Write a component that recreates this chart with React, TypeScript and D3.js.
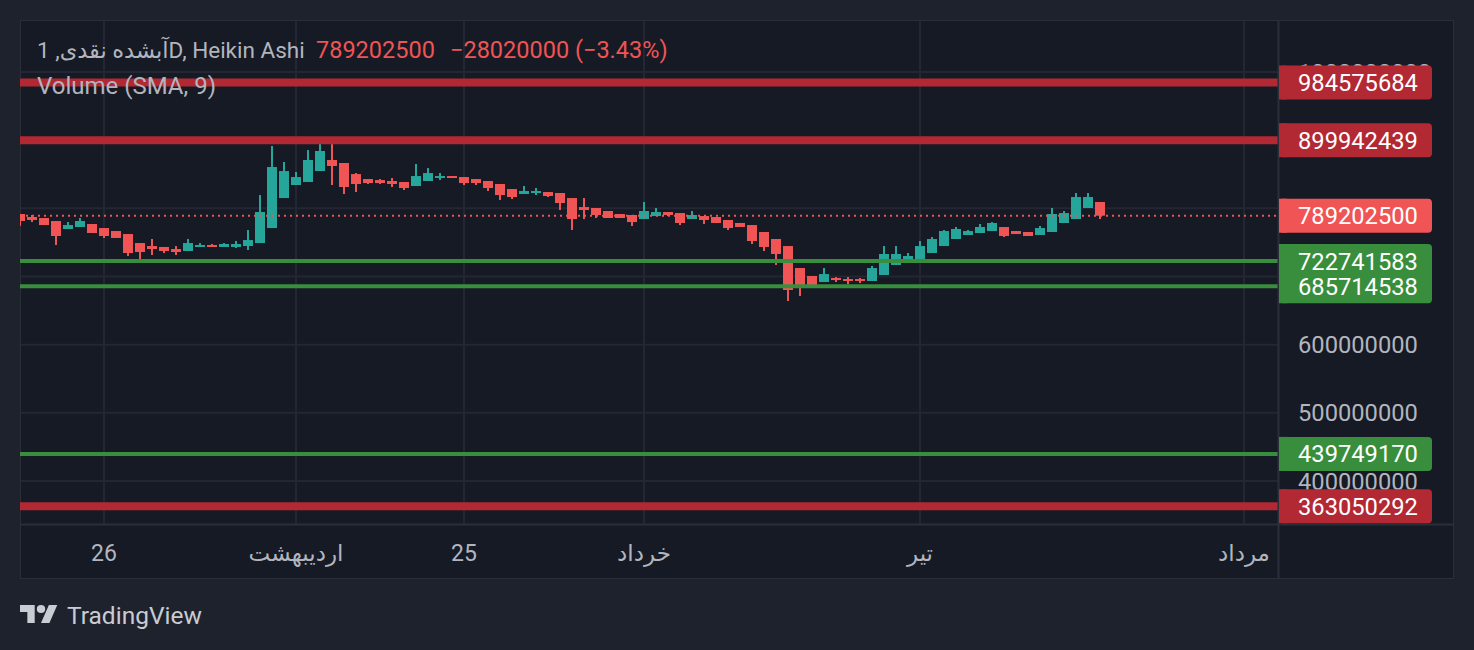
import React from "react";
import * as d3 from "d3";

// Heikin Ashi candles, values in millions
const opens = [
    791.7, 787.3, 785.8, 781.4, 769.7, 772.6, 777.0, 771.1, 766.7, 762.3,
    749.1, 744.7, 743.3, 740.3, 737.4, 743.3, 746.2, 743.3, 743.3, 744.7,
    749.1, 771.1, 815.1, 834.2, 838.6, 854.7, 870.9, 866.5, 850.3, 843.0,
    841.5, 840.1, 838.6, 832.7, 840.1, 844.5, 847.4, 845.9, 843.0, 840.1,
    835.7, 828.3, 821.0, 822.5, 823.9, 822.5, 815.1, 801.9, 800.5, 796.1,
    791.7, 790.2, 784.3, 788.7, 794.6, 793.1, 784.3, 788.7, 787.3, 782.9,
    778.5, 775.5, 765.3, 755.0, 744.7, 712.4, 700.7, 691.9, 697.8, 696.3,
    696.3, 693.4, 702.2, 716.9, 724.2, 725.7, 734.5, 744.7, 755.0, 760.9,
    763.8, 766.7, 772.6, 766.7, 765.3, 760.9, 765.3, 778.5, 784.3, 800.5,
    809.3,
];
const highs = [
    791.7, 790.2, 785.8, 781.4, 779.9, 785.8, 777.0, 771.1, 766.7, 762.3,
    749.1, 755.0, 743.3, 744.7, 755.0, 749.1, 747.7, 749.1, 752.1, 768.2,
    819.5, 891.4, 868.0, 853.3, 885.5, 894.3, 894.3, 866.5, 851.8, 843.0,
    843.0, 844.5, 838.6, 865.1, 859.1, 851.8, 847.4, 845.9, 843.0, 840.1,
    835.7, 828.3, 832.7, 829.8, 823.9, 822.5, 815.1, 815.1, 800.5, 796.1,
    791.7, 790.2, 809.3, 800.5, 794.6, 793.1, 796.1, 788.7, 787.3, 782.9,
    778.5, 775.5, 765.3, 755.0, 744.7, 712.4, 700.7, 712.4, 699.2, 699.2,
    697.8, 715.4, 744.7, 744.7, 734.5, 752.1, 757.9, 768.2, 772.6, 768.2,
    777.0, 779.9, 772.6, 766.7, 765.3, 774.1, 800.5, 796.1, 822.5, 822.5,
    809.3,
];
const lows = [
    774.1, 779.9, 775.5, 746.2, 769.7, 772.6, 763.8, 756.5, 756.5, 730.1,
    724.2, 731.5, 734.5, 731.5, 737.4, 743.3, 743.3, 743.3, 741.8, 738.9,
    749.1, 771.1, 815.1, 834.2, 838.6, 854.7, 834.2, 821.0, 823.9, 835.7,
    835.7, 831.3, 826.9, 832.7, 840.1, 841.5, 844.5, 834.2, 834.2, 825.4,
    812.2, 813.7, 821.0, 819.5, 816.6, 797.5, 768.2, 784.3, 785.8, 785.8,
    785.8, 774.1, 784.3, 788.7, 788.7, 775.5, 784.3, 777.0, 778.5, 768.2,
    772.6, 747.7, 737.4, 716.9, 664.0, 671.4, 684.6, 691.9, 691.9, 689.0,
    690.4, 693.4, 702.2, 716.9, 724.2, 725.7, 734.5, 744.7, 755.0, 760.9,
    763.8, 766.7, 757.9, 762.3, 759.4, 760.9, 765.3, 778.5, 784.3, 800.5,
    784.3,
];
const closes = [
    781.4, 782.9, 775.5, 759.4, 775.5, 781.4, 763.8, 759.4, 756.5, 734.5,
    735.9, 740.3, 737.4, 735.9, 749.1, 746.2, 743.3, 747.7, 747.7, 753.5,
    794.6, 860.6, 854.7, 845.9, 870.9, 884.1, 862.1, 831.3, 835.7, 837.1,
    837.1, 835.7, 829.8, 847.4, 851.8, 847.4, 844.5, 837.1, 837.1, 829.8,
    819.5, 816.6, 825.4, 825.4, 818.1, 807.8, 784.3, 797.5, 790.2, 785.8,
    785.8, 779.9, 796.1, 794.6, 790.2, 778.5, 790.2, 782.9, 778.5, 771.1,
    772.6, 752.1, 743.3, 733.0, 680.2, 686.0, 684.6, 703.6, 694.8, 693.4,
    693.4, 712.4, 733.0, 733.0, 730.1, 744.7, 755.0, 766.7, 769.7, 766.7,
    772.6, 778.5, 759.4, 762.3, 759.4, 771.1, 791.7, 793.1, 816.6, 816.6,
    789.2025,
];

const priceTicks = [400, 500, 600, 700, 800, 900, 1000];

const timeTicks = [
    { i: 7, label: "26" },
    { i: 23, label: "اردیبهشت" },
    { i: 37, label: "25" },
    { i: 52, label: "خرداد" },
    { i: 75, label: "تیر" },
    { i: 102, label: "مرداد" },
];

const redLevels = [984575684, 899942439, 363050292];
const greenLevels = [685714538, 722741583, 439749170];
const lastPrice = 789202500;

const UP = "#26a69a";
const DOWN = "#f05454";
const LEVEL_RED = "#b22833";
const LEVEL_GREEN = "#388e3c";
const TEXT = "#b2b5be";
const FONT = "Roboto, 'DejaVu Sans', sans-serif";

export default function App() {
    const width = 1474;
    const height = 650;
    const pane = { left: 20, top: 20, right: 1454, bottom: 579 };
    const plotRight = 1279;
    const plotBottom = 524;

    const x = d3.scaleLinear().domain([0, 105]).range([20, 20 + 105 * 12]);
    const y = d3.scaleLinear().domain([400, 1000]).range([481, 72]);

    const candles = d3.range(opens.length).map((i) => ({
        i,
        o: opens[i],
        h: highs[i],
        l: lows[i],
        c: closes[i],
    }));

    const priceBox = (value: number, color: string, key: string) => {
        const cy = y(value / 1e6);
        return (
            <g key={key}>
                <rect x={plotRight} y={cy - 17} width={153} height={34} rx={4} fill={color} />
                <rect x={plotRight} y={cy - 17} width={8} height={34} fill={color} />
                <text x={1298} y={cy} dy="0.36em" fill="#ffffff" fontSize={23.7}>
                    {value}
                </text>
            </g>
        );
    };

    return (
        <svg
            width={width}
            height={height}
            style={{ position: "absolute", left: 0, top: 0 }}
            fontFamily={FONT}
        >
            <defs>
                <clipPath id="plot">
                    <rect x={pane.left} y={pane.top} width={plotRight - pane.left} height={plotBottom - pane.top} />
                </clipPath>
            </defs>
            <rect width={width} height={height} fill="#1e222d" />
            <rect
                x={pane.left + 0.5}
                y={pane.top + 0.5}
                width={pane.right - pane.left - 1}
                height={pane.bottom - pane.top - 1}
                fill="#161a25"
                stroke="#2a2e39"
            />

            {/* grid */}
            <g stroke="#242733" strokeWidth={2}>
                {timeTicks.map((t) => (
                    <line key={t.label} x1={x(t.i)} x2={x(t.i)} y1={pane.top + 1} y2={plotBottom} />
                ))}
                {priceTicks.map((p) => (
                    <line key={p} x1={pane.left + 1} x2={plotRight} y1={y(p)} y2={y(p)} />
                ))}
            </g>

            {/* candles */}
            <g clipPath="url(#plot)">
                {candles.map((d) => {
                    const color = d.c >= d.o ? UP : DOWN;
                    const top = y(Math.max(d.o, d.c));
                    const bot = y(Math.min(d.o, d.c));
                    const cx = x(d.i);
                    return (
                        <g key={d.i} fill={color}>
                            <rect x={cx - 1} y={y(d.h)} width={2} height={y(d.l) - y(d.h)} />
                            <rect x={cx - 5} y={top} width={10} height={Math.max(2, bot - top)} />
                        </g>
                    );
                })}
            </g>

            {/* horizontal levels */}
            {redLevels.map((v) => (
                <line key={v} x1={pane.left} x2={plotRight} y1={y(v / 1e6)} y2={y(v / 1e6)} stroke={LEVEL_RED} strokeWidth={8} />
            ))}
            {greenLevels.map((v) => (
                <line key={v} x1={pane.left} x2={plotRight} y1={y(v / 1e6)} y2={y(v / 1e6)} stroke={LEVEL_GREEN} strokeWidth={4} />
            ))}
            <line
                x1={pane.left}
                x2={plotRight}
                y1={y(lastPrice / 1e6)}
                y2={y(lastPrice / 1e6)}
                stroke={DOWN}
                strokeWidth={2}
                strokeDasharray="2 4"
            />

            {/* axes borders */}
            <line x1={plotRight - 0.5} x2={plotRight - 0.5} y1={pane.top} y2={pane.bottom} stroke="#2a2e39" strokeWidth={2} />
            <line x1={pane.left} x2={pane.right} y1={plotBottom + 0.5} y2={plotBottom + 0.5} stroke="#2a2e39" strokeWidth={2} />

            {/* price axis */}
            <g fill={TEXT} fontSize={23.7}>
                {priceTicks.map((p) => (
                    <text key={p} x={1298} y={y(p)} dy="0.36em">
                        {(p * 1e6).toFixed(0)}
                    </text>
                ))}
            </g>
            {priceBox(redLevels[0], LEVEL_RED, "r0")}
            {priceBox(redLevels[1], LEVEL_RED, "r1")}
            {priceBox(lastPrice, DOWN, "last")}
            {priceBox(greenLevels[0], LEVEL_GREEN, "g0")}
            {priceBox(greenLevels[1], LEVEL_GREEN, "g1")}
            {priceBox(greenLevels[2], LEVEL_GREEN, "g2")}
            {priceBox(redLevels[2], LEVEL_RED, "r2")}

            {/* time axis */}
            <g fill={TEXT} fontSize={23} textAnchor="middle">
                {timeTicks.map((t) => (
                    <text key={t.label} x={x(t.i)} y={553} dy="0.36em">
                        {t.label}
                    </text>
                ))}
            </g>

            {/* legend */}
            <text x={37} y={50} dy="0.36em" fill={TEXT} fontSize={22.5}>
                آبشده نقدی, 1D, Heikin Ashi
            </text>
            <text x={316} y={50} dy="0.36em" fill={DOWN} fontSize={23.5}>
                789202500
            </text>
            <text x={450} y={50} dy="0.36em" fill={DOWN} fontSize={23.5}>
                −28020000 (−3.43%)
            </text>
            <text x={37} y={85} dy="0.36em" fill={TEXT} fontSize={24}>
                Volume (SMA, 9)
            </text>

            {/* logo */}
            <g fill="#c9ccd3">
                <g transform="translate(20,601) scale(1.05,1)">
                    <path d="M14 22H7V11H0V4h14v18zM28 22h-8l7.5-18h8L28 22z" />
                    <circle cx={20} cy={8} r={4} />
                </g>
                <text x={67} y={615} dy="0.36em" fontSize={24.5}>
                    TradingView
                </text>
            </g>
        </svg>
    );
}
